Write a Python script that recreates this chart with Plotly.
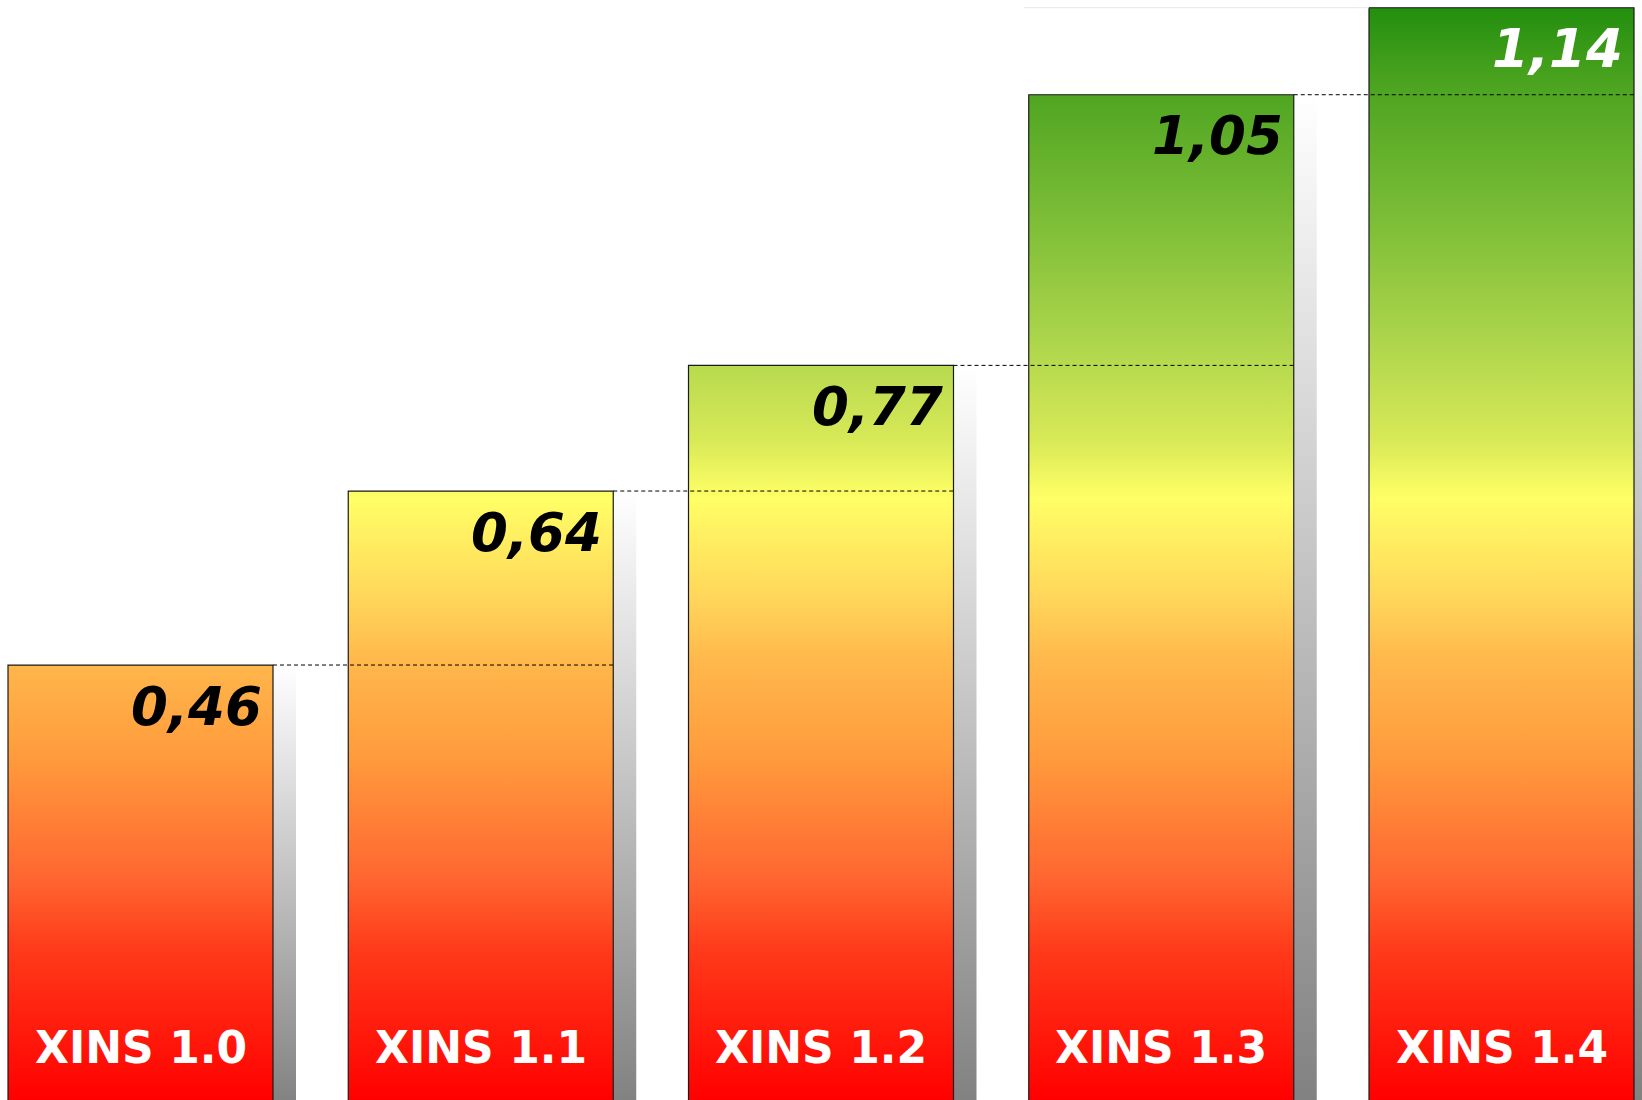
import plotly.graph_objects as go

categories = ["XINS 1.0", "XINS 1.1", "XINS 1.2", "XINS 1.3", "XINS 1.4"]
values = [0.46, 0.64, 0.77, 1.05, 1.14]
value_labels = ["0,46", "0,64", "0,77", "1,05", "1,14"]
label_colors = ["black", "black", "black", "black", "white"]

W, H = 1642, 1100
PITCH = 340.25
BAR_W = 265 / PITCH
SHADOW_W = 23 / PITCH
X_RANGE = [-140.5 / PITCH, (W - 140.5) / PITCH]
Y_RANGE = [0.010, 1.148]

# absolute vertical colour ramp (0 = bottom of chart, 1 = top)
bar_scale = [
    [0.0, "#ff0000"],
    [0.136, "#ff3a1a"],
    [0.2, "#ff6530"],
    [0.309, "#ff9a3c"],
    [0.4, "#ffb84c"],
    [0.4545, "#ffd55a"],
    [0.547, "#ffff66"],
    [0.6, "#d8e957"],
    [0.7, "#a8d34a"],
    [0.8, "#7dbd37"],
    [0.927, "#4aa31f"],
    [1.0, "#1f8c0c"],
]
shadow_scale = [[0.0, "#808080"], [1.0, "#ffffff"]]

fig = go.Figure()

for i, v in enumerate(values):
    left = i - BAR_W / 2
    right = i + BAR_W / 2
    # shadow
    fig.add_trace(go.Scatter(
        x=[right, right + SHADOW_W, right + SHADOW_W, right, right],
        y=[0, 0, v, v, 0],
        fill="toself", mode="lines", line=dict(width=0),
        fillgradient=dict(type="vertical", colorscale=shadow_scale, start=0, stop=v),
        hoverinfo="skip", showlegend=False,
    ))
    # bar
    fig.add_trace(go.Scatter(
        x=[left, right, right, left, left],
        y=[0, 0, v, v, 0],
        fill="toself", mode="lines", line=dict(width=1.2, color="#1a1a1a"),
        fillgradient=dict(type="vertical", colorscale=bar_scale,
                          start=Y_RANGE[0], stop=Y_RANGE[1]),
        hoverinfo="skip", showlegend=False,
    ))

# dashed connectors: from the right edge of each bar to the right edge of the next
for i in range(len(values) - 1):
    fig.add_trace(go.Scatter(
        x=[i + BAR_W / 2, i + 1 + BAR_W / 2],
        y=[values[i], values[i]],
        mode="lines", line=dict(width=1, color="#000000", dash="4px,3px"),
        hoverinfo="skip", showlegend=False,
    ))

# faint top line
n = len(values)
fig.add_trace(go.Scatter(
    x=[n - 2 - BAR_W / 2 - 5 / PITCH, n - 1 - BAR_W / 2],
    y=[values[-1], values[-1]],
    mode="lines", line=dict(width=1, color="#e4ebe4"),
    hoverinfo="skip", showlegend=False,
))

annotations = []
for i, (v, lab, col) in enumerate(zip(values, value_labels, label_colors)):
    annotations.append(dict(
        x=i + BAR_W / 2, y=v, xref="x", yref="y",
        text=lab, showarrow=False, xanchor="right", yanchor="middle",
        xshift=-9, yshift=-41,
        font=dict(family="DejaVu Sans", size=53, color=col, weight="bold", style="italic"),
    ))
for i, c in enumerate(categories):
    annotations.append(dict(
        x=i, y=0, xref="x", yref="paper",
        text=c, showarrow=False, xanchor="center", yanchor="middle",
        yshift=53,
        font=dict(family="DejaVu Sans", size=44, color="white", weight="bold"),
    ))

fig.update_layout(
    width=W, height=H,
    margin=dict(l=0, r=0, t=0, b=0),
    paper_bgcolor="white", plot_bgcolor="white",
    xaxis=dict(range=X_RANGE, visible=False, fixedrange=True),
    yaxis=dict(range=Y_RANGE, visible=False, fixedrange=True),
    annotations=annotations,
    showlegend=False,
)

fig.write_html("out.html")
